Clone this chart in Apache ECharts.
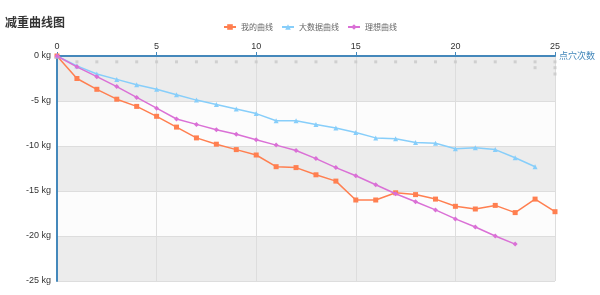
<!DOCTYPE html>
<html><head><meta charset="utf-8">
<script src="https://cdn.jsdelivr.net/npm/echarts@6/dist/echarts.min.js"></script>
<style>html,body{margin:0;padding:0;background:#fff}#c{width:600px;height:295px}</style>
</head><body><div id="c"></div>
<script>
const seriesNames = ['我的曲线', '大数据曲线', '理想曲线'];
const myCurve = [0, -2.5, -3.7, -4.8, -5.6, -6.7, -7.9, -9.1, -9.8, -10.4, -11.0, -12.3, -12.4, -13.2, -13.9, -16.0, -16.0, -15.2, -15.4, -15.9, -16.7, -17.0, -16.6, -17.4, -15.9, -17.3];
const bigDataCurve = [0, -1.1, -2.0, -2.6, -3.2, -3.7, -4.3, -4.9, -5.4, -5.9, -6.4, -7.2, -7.2, -7.6, -8.0, -8.5, -9.1, -9.2, -9.6, -9.7, -10.3, -10.2, -10.4, -11.3, -12.3];
const idealCurve = [0, -1.2, -2.3, -3.4, -4.6, -5.8, -7.0, -7.6, -8.2, -8.7, -9.3, -9.9, -10.5, -11.4, -12.4, -13.3, -14.3, -15.3, -16.2, -17.1, -18.1, -19.0, -20.0, -20.9];
const dotsX = [1,2,3,4,5,6,7,8,9,10,11,12,13,14,15,16,17,18,19,20,21,22,23,24,25,24,25,25];
const dotsY = [-0.65,-0.65,-0.65,-0.65,-0.65,-0.65,-0.65,-0.65,-0.65,-0.65,-0.65,-0.65,-0.65,-0.65,-0.65,-0.65,-0.65,-0.65,-0.65,-0.65,-0.65,-0.65,-0.65,-0.65,-0.65,-1.3,-1.3,-2.0];
const xTicks = [0, 5, 10, 15, 20, 25];
const yTicks = [0, -5, -10, -15, -20, -25];

const pairs = arr => arr.map((v, i) => [i, v]);
const colors = ['#ff7f50', '#87cefa', '#da70d6'];
const symbols = ['rect', 'triangle', 'diamond'];
const datas = [myCurve, bigDataCurve, idealCurve];

const chart = echarts.init(document.getElementById('c'));
chart.setOption({
  animation: false,
  backgroundColor: '#fff',
  title: { text: '减重曲线图', left: 0, top: 11, textStyle: { fontSize: 12, fontWeight: 'bold', color: '#333', fontFamily: 'Noto Sans CJK SC' } },
  legend: {
    top: 18, left: 218, itemWidth: 12, itemHeight: 7, itemGap: 8,
    textStyle: { fontSize: 8, color: '#666', fontFamily: 'Noto Sans CJK SC' },
    data: seriesNames
  },
  grid: { left: 57, right: 45, top: 56, bottom: 14 },
  xAxis: {
    type: 'value', position: 'top', min: xTicks[0], max: xTicks[xTicks.length - 1], interval: 5,
    name: '点穴次数', nameLocation: 'end', nameGap: 4,
    nameTextStyle: { color: '#4488bb', fontSize: 9, fontFamily: 'Noto Sans CJK SC', padding: [14, 0, 0, 0] },
    axisLine: { lineStyle: { color: '#4488bb', width: 2 } },
    axisTick: { show: true, length: 4, inside: false, lineStyle: { color: '#4488bb' } },
    axisLabel: { color: '#333', fontSize: 9, margin: 5 },
    splitLine: { show: true, lineStyle: { color: '#ddd' } }
  },
  yAxis: {
    type: 'value', min: yTicks[yTicks.length - 1], max: yTicks[0], interval: 5,
    axisLine: { show: true, lineStyle: { color: '#4488bb', width: 2 } },
    axisTick: { show: false },
    axisLabel: { color: '#333', fontSize: 9, margin: 6, formatter: '{value} kg' },
    splitLine: { show: true, lineStyle: { color: '#ddd' } },
    splitArea: { show: true, areaStyle: { color: ['#ececec', '#fcfcfc'] } }
  },
  series: [
    ...datas.map((d, k) => ({
      name: seriesNames[k], type: 'line', data: pairs(d),
      symbol: symbols[k], symbolSize: 5, showSymbol: true,
      itemStyle: { color: colors[k] },
      lineStyle: { color: colors[k], width: 1.5 },
      z: 3 + k
    })),
    {
      type: 'scatter', silent: true, symbol: 'rect', symbolSize: 3,
      itemStyle: { color: '#c8c8c8' },
      data: dotsX.map((x, i) => [x, dotsY[i]]), z: 2
    }
  ]
});
</script></body></html>
